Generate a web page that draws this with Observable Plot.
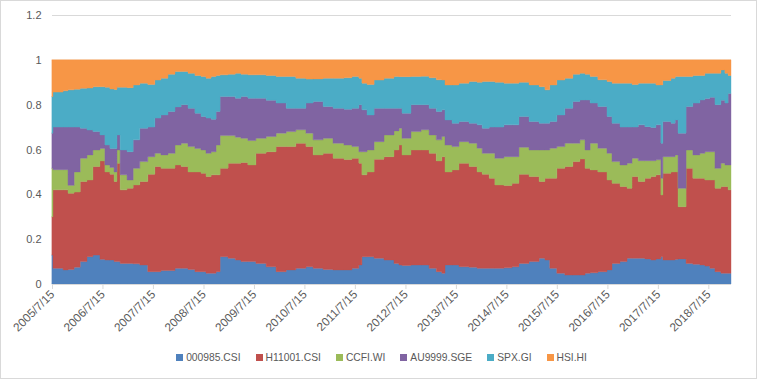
<!DOCTYPE html>
<html><head><meta charset="utf-8">
<script src="https://cdn.jsdelivr.net/npm/d3@7"></script>
<script src="https://cdn.jsdelivr.net/npm/@observablehq/plot@0.6"></script>
<style>
html,body{margin:0;padding:0;background:#fff;}
#wrap{position:relative;width:757px;height:379px;overflow:hidden;font-family:"Liberation Sans",Arial,sans-serif;}
#border{position:absolute;left:0;top:0;width:757px;height:379px;box-sizing:border-box;border:1px solid #d9d9d9;pointer-events:none;}
#legend{position:absolute;left:3px;top:351px;width:757px;display:flex;justify-content:center;gap:15px;font-size:10.3px;color:#595959;line-height:14px;}
#legend span.sw{display:inline-block;width:7px;height:7px;margin-right:3px;vertical-align:0px;}
#chart svg g[aria-label="x-axis tick label"]{font-size:11.8px;}
</style></head>
<body><div id="wrap"><div id="chart"></div><div id="legend"></div><div id="border"></div></div>
<script>
const seriesNames = ["000985.CSI","H11001.CSI","CCFI.WI","AU9999.SGE","SPX.GI","HSI.HI"];
const colors = ["#4f81bd","#c0504d","#9bbb59","#8064a2","#4bacc6","#f79646"];
const yTicks = [0,0.2,0.4,0.6,0.8,1.0,1.2];
const xTickDates = ["2005-07-15","2006-07-15","2007-07-15","2008-07-15","2009-07-15","2010-07-15","2011-07-15","2012-07-15","2013-07-15","2014-07-15","2015-07-15","2016-07-15","2017-07-15","2018-07-15"];
const dates = ["2005-07-15","2005-07-22","2005-10-03","2005-11-08","2005-12-22","2006-02-04","2006-03-25","2006-05-07","2006-06-27","2006-08-02",
"2006-09-07","2006-10-07","2006-10-28","2006-11-20","2007-01-09","2007-02-22","2007-04-11","2007-06-08","2007-07-29","2007-09-11",
"2007-11-01","2007-12-22","2008-02-04","2008-03-25","2008-05-14","2008-06-27","2008-08-02","2008-09-08","2008-10-14","2008-11-12",
"2009-01-09","2009-03-02","2009-04-12","2009-06-01","2009-07-29","2009-10-11","2009-12-22","2010-03-05","2010-05-14","2010-07-26",
"2010-09-16","2010-11-27","2011-02-07","2011-04-27","2011-06-24","2011-08-13","2011-09-04","2011-10-11","2011-12-01","2012-02-11",
"2012-04-23","2012-05-29","2012-06-20","2012-08-24","2012-11-05","2013-01-02","2013-02-23","2013-04-04","2013-04-27","2013-06-17",
"2013-08-06","2013-10-18","2013-12-15","2014-01-21","2014-03-13","2014-04-23","2014-06-27","2014-08-25","2014-10-14","2014-12-26",
"2015-03-09","2015-04-20","2015-05-25","2015-07-15","2015-09-11","2015-11-08","2015-12-29","2016-02-04","2016-03-12","2016-05-07",
"2016-07-12","2016-08-17","2016-10-14","2016-12-04","2017-01-09","2017-02-23","2017-04-12","2017-05-25","2017-07-01","2017-08-06",
"2017-08-20","2017-10-18","2017-11-17","2017-12-08","2018-02-04","2018-03-25","2018-05-15","2018-06-20","2018-07-26","2018-09-01",
"2018-10-14","2018-11-12","2018-12-05","2018-12-26"];
const s000985 = [0.129,0.070,0.063,0.065,0.075,0.100,0.122,0.129,0.110,0.107,
0.107,0.100,0.100,0.092,0.092,0.090,0.085,0.055,0.055,0.060,
0.060,0.070,0.070,0.065,0.055,0.055,0.048,0.048,0.055,0.122,
0.115,0.107,0.100,0.100,0.092,0.077,0.055,0.063,0.070,0.077,
0.070,0.065,0.063,0.063,0.070,0.085,0.122,0.122,0.115,0.107,
0.092,0.085,0.083,0.085,0.085,0.070,0.055,0.048,0.085,0.085,
0.077,0.075,0.070,0.070,0.070,0.070,0.072,0.077,0.092,0.100,
0.115,0.107,0.070,0.048,0.040,0.040,0.040,0.048,0.050,0.055,
0.063,0.092,0.100,0.115,0.115,0.115,0.112,0.107,0.112,0.122,
0.107,0.107,0.110,0.112,0.092,0.088,0.085,0.080,0.070,0.055,
0.048,0.048,0.048,0.048];
const sH11001 = [0.171,0.350,0.357,0.340,0.335,0.357,0.342,0.395,0.439,0.393,
0.383,0.357,0.439,0.328,0.335,0.352,0.372,0.435,0.469,0.456,
0.456,0.461,0.454,0.435,0.445,0.439,0.431,0.439,0.432,0.394,
0.424,0.432,0.442,0.431,0.491,0.513,0.558,0.550,0.558,0.536,
0.506,0.518,0.498,0.492,0.491,0.454,0.365,0.378,0.442,0.461,
0.506,0.535,0.493,0.513,0.513,0.513,0.494,0.520,0.415,0.424,
0.462,0.449,0.430,0.420,0.402,0.372,0.367,0.372,0.398,0.379,
0.342,0.365,0.402,0.468,0.484,0.506,0.518,0.468,0.459,0.445,
0.401,0.357,0.335,0.312,0.364,0.342,0.360,0.372,0.375,0.275,
0.387,0.393,0.390,0.233,0.424,0.384,0.387,0.384,0.394,0.372,
0.387,0.387,0.372,0.372];
const sCCFI = [0.216,0.090,0.090,0.035,0.090,0.104,0.112,0.074,0.056,0.031,
0.030,0.043,0.059,0.067,0.037,0.074,0.089,0.078,0.059,0.060,
0.067,0.089,0.104,0.113,0.105,0.104,0.104,0.103,0.133,0.146,
0.123,0.116,0.108,0.109,0.067,0.068,0.060,0.067,0.060,0.060,
0.067,0.067,0.067,0.065,0.052,0.051,0.103,0.098,0.078,0.097,
0.085,0.075,0.074,0.082,0.090,0.082,0.094,0.090,0.120,0.104,
0.096,0.104,0.106,0.093,0.111,0.119,0.129,0.119,0.120,0.119,
0.141,0.126,0.134,0.097,0.104,0.082,0.085,0.082,0.119,0.106,
0.119,0.097,0.096,0.112,0.082,0.093,0.078,0.071,0.067,0.075,
0.074,0.068,0.076,0.082,0.082,0.104,0.111,0.126,0.126,0.089,
0.104,0.096,0.111,0.111];
const sAU9999 = [0.157,0.190,0.190,0.260,0.200,0.134,0.111,0.082,0.060,0.089,
0.085,0.105,0.067,0.111,0.126,0.127,0.149,0.132,0.157,0.178,
0.187,0.170,0.172,0.171,0.157,0.149,0.157,0.145,0.150,0.174,
0.174,0.174,0.186,0.189,0.179,0.162,0.134,0.104,0.096,0.134,
0.171,0.142,0.156,0.160,0.171,0.210,0.187,0.156,0.149,0.119,
0.101,0.089,0.112,0.120,0.112,0.119,0.127,0.119,0.112,0.104,
0.090,0.089,0.104,0.112,0.117,0.139,0.142,0.142,0.137,0.127,
0.119,0.119,0.119,0.141,0.156,0.186,0.178,0.223,0.179,0.186,
0.164,0.171,0.169,0.161,0.139,0.160,0.152,0.148,0.156,0.156,
0.157,0.149,0.156,0.246,0.194,0.231,0.238,0.238,0.243,0.284,
0.281,0.276,0.319,0.319];
const sSPX = [0.163,0.156,0.162,0.166,0.169,0.178,0.187,0.200,0.215,0.258,
0.265,0.263,0.213,0.280,0.286,0.245,0.201,0.190,0.170,0.164,
0.166,0.158,0.148,0.156,0.168,0.179,0.178,0.191,0.160,0.097,
0.100,0.111,0.100,0.104,0.104,0.110,0.119,0.142,0.134,0.107,
0.101,0.126,0.134,0.140,0.142,0.118,0.119,0.136,0.126,0.134,
0.142,0.141,0.163,0.126,0.127,0.136,0.141,0.133,0.156,0.171,
0.171,0.186,0.190,0.208,0.203,0.200,0.186,0.186,0.153,0.163,
0.163,0.149,0.163,0.156,0.134,0.122,0.119,0.115,0.119,0.119,
0.156,0.179,0.196,0.196,0.190,0.186,0.194,0.198,0.178,0.260,
0.183,0.201,0.194,0.253,0.134,0.123,0.109,0.112,0.107,0.140,
0.135,0.133,0.080,0.080];
const sHSI = [0.164,0.144,0.138,0.134,0.131,0.127,0.126,0.120,0.120,0.122,
0.130,0.132,0.122,0.122,0.124,0.112,0.104,0.110,0.090,0.082,
0.064,0.052,0.052,0.060,0.070,0.074,0.082,0.074,0.070,0.067,
0.064,0.060,0.064,0.067,0.067,0.070,0.074,0.074,0.082,0.086,
0.085,0.082,0.082,0.080,0.074,0.082,0.104,0.110,0.090,0.082,
0.074,0.075,0.075,0.074,0.073,0.080,0.089,0.090,0.112,0.112,
0.104,0.097,0.100,0.097,0.097,0.100,0.104,0.104,0.100,0.112,
0.120,0.134,0.112,0.090,0.082,0.064,0.060,0.064,0.074,0.089,
0.097,0.104,0.104,0.104,0.110,0.104,0.104,0.104,0.112,0.112,
0.092,0.082,0.074,0.074,0.074,0.070,0.070,0.060,0.060,0.060,
0.045,0.060,0.070,0.070];

const seriesValues = [s000985, sH11001, sCCFI, sAU9999, sSPX, sHSI];
const parse = s => new Date(s + "T00:00:00Z");
const rows = dates.flatMap((d, i) => seriesNames.map((name, j) => ({date: parse(d), series: name, value: seriesValues[j][i]})));
const fmtDate = d => `${d.getUTCFullYear()}/${d.getUTCMonth()+1}/${d.getUTCDate()}`;
const fmtY = d => String(Math.round(d * 10) / 10);

const chart = Plot.plot({
  width: 757, height: 340,
  marginLeft: 52, marginRight: 26, marginTop: 15, marginBottom: 56,
  style: {fontFamily: '"Liberation Sans", Arial, sans-serif', fontSize: "11px", background: "transparent", color: "#595959"},
  x: {type: "utc", domain: [parse(dates[0]), parse(dates[dates.length - 1])]},
  y: {domain: [0, 1.2]},
  color: {domain: seriesNames, range: colors},
  marks: [
    Plot.ruleY(yTicks, {stroke: "#d9d9d9"}),
    Plot.areaY(rows, {x: "date", y: "value", fill: "series", stroke: "series", strokeWidth: 0.4, z: "series", order: seriesNames, curve: "step-after"}),
    Plot.ruleY([0], {stroke: "#d9d9d9"}),
    Plot.axisY({ticks: yTicks, tickFormat: fmtY, tickSize: 0, tickPadding: 11, label: null, fill: "#595959"}),
    Plot.axisX({ticks: xTickDates.map(parse), tickFormat: fmtDate, tickRotate: -45, tickSize: 5, tickPadding: 3, label: null, stroke: "#d9d9d9", fill: "#595959", fontSize: 11.8})
  ]
});
document.getElementById("chart").appendChild(chart);

const leg = document.getElementById("legend");
seriesNames.forEach((n, i) => {
  const item = document.createElement("div");
  item.innerHTML = `<span class="sw" style="background:${colors[i]}"></span>${n}`;
  leg.appendChild(item);
});
</script></body></html>
